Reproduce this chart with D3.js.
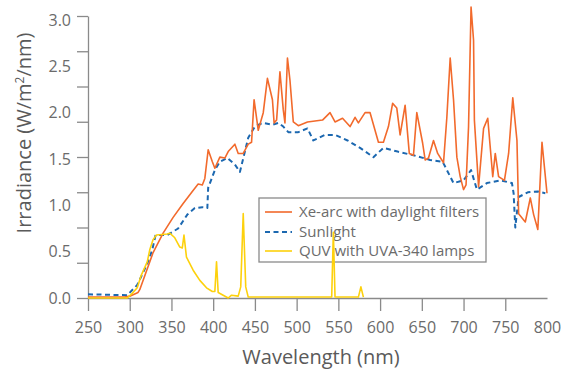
<!DOCTYPE html>
<html>
<head>
<meta charset="utf-8">
<script src="https://cdn.jsdelivr.net/npm/d3@7"></script>
<style>
  body { margin: 0; background: #fff; }
  svg { display: block; font-family: 'Open Sans', 'Noto Sans', sans-serif; }
</style>
</head>
<body>
<div id="chart"></div>
<script>
/* wavelengths (nm) and irradiance (W/m2/nm) */
const xeWavelength = [250, 294, 300, 310, 312, 328, 340, 352, 364, 375, 382, 387, 390, 394, 399, 402, 408, 414, 418, 426, 430, 436, 442, 446, 449, 454, 460, 465, 471, 473, 476, 480, 484, 486, 489, 492, 496, 502, 513, 531, 540, 546, 555, 564, 570, 574, 582, 588, 598, 604, 610, 615, 620, 624, 630, 635, 640, 644, 651, 654, 658, 664, 669, 676, 680, 684, 688, 692, 696, 700, 703, 706, 709, 712, 713, 718, 724, 729, 735, 738, 742, 749, 754, 759, 764, 766, 774, 780, 784, 789, 794, 800];
const xeIrradiance = [0.01, 0.01, 0.02, 0.06, 0.09, 0.49, 0.70, 0.87, 1.02, 1.15, 1.23, 1.22, 1.29, 1.60, 1.47, 1.40, 1.52, 1.51, 1.58, 1.66, 1.56, 1.56, 1.66, 1.68, 2.14, 1.81, 2.00, 2.37, 2.14, 1.89, 1.92, 2.44, 2.03, 1.89, 2.59, 2.35, 1.90, 1.86, 1.90, 1.92, 2.00, 1.90, 1.94, 1.85, 1.95, 1.89, 2.00, 2.00, 1.68, 1.68, 1.85, 2.10, 2.05, 1.76, 2.08, 1.56, 1.54, 2.00, 1.67, 1.49, 1.51, 1.70, 1.56, 1.46, 1.95, 2.59, 2.14, 1.52, 1.31, 1.17, 1.22, 1.85, 3.14, 2.78, 1.92, 1.20, 1.83, 1.94, 1.31, 1.56, 1.31, 1.27, 1.56, 2.16, 1.70, 0.91, 0.82, 1.08, 0.90, 0.74, 1.68, 1.13];

const sunWavelength = [250, 297, 309, 321, 327, 331, 345, 358, 369, 378, 387, 393, 394, 402, 408, 417, 426, 432, 438, 442, 450, 459, 471, 478, 484, 490, 502, 513, 520, 534, 546, 561, 576, 592, 604, 621, 640, 660, 675, 688, 700, 709, 716, 728, 744, 758, 760, 762, 766, 777, 789, 798];
const sunIrradiance = [0.04, 0.03, 0.14, 0.37, 0.52, 0.68, 0.68, 0.75, 0.90, 0.97, 0.98, 0.97, 1.19, 1.38, 1.47, 1.51, 1.44, 1.36, 1.58, 1.73, 1.85, 1.89, 1.87, 1.89, 1.85, 1.79, 1.79, 1.83, 1.70, 1.76, 1.76, 1.70, 1.62, 1.52, 1.62, 1.58, 1.54, 1.49, 1.47, 1.24, 1.27, 1.38, 1.17, 1.24, 1.27, 1.24, 1.13, 0.76, 1.09, 1.14, 1.15, 1.13];

const quvWavelength = [250, 297, 303, 309, 314, 321, 324, 328, 332, 345, 348, 354, 360, 363, 365, 368, 376, 384, 392, 399, 402, 404, 406, 412, 418, 422, 430, 433, 436, 439, 442, 500, 542, 544, 546, 548, 574, 577, 580];
const quvIrradiance = [0, 0, 0.05, 0.11, 0.25, 0.39, 0.52, 0.63, 0.68, 0.69, 0.70, 0.65, 0.55, 0.54, 0.68, 0.44, 0.30, 0.19, 0.11, 0.07, 0.07, 0.39, 0.06, 0.03, 0.0, 0.03, 0.02, 0.12, 0.91, 0.12, 0.01, 0.01, 0.01, 0.71, 0.01, 0.01, 0.01, 0.12, 0.01];

const seriesNames = ['Xe-arc with daylight filters', 'Sunlight', 'QUV with UVA-340 lamps'];
const xTickValues = [250, 300, 350, 400, 450, 500, 550, 600, 650, 700, 750, 800];
const yTickValues = [0, 0.5, 1.0, 1.5, 2.0, 2.5, 3.0];

const width = 569;
const height = 372;
const axisColour = '#8a8a8a';
const textColour = '#6b6b6b';

const svg = d3.select('#chart')
  .append('svg')
  .attr('width', width)
  .attr('height', height);

const x = d3.scaleLinear().domain([250, 800]).range([88, 547]);
const y = d3.scaleLinear().domain([0, 3]).range([298, 20]);
/* the tick marks on the y axis are spaced on their own grid, not on the labels */
const yMarks = d3.scaleLinear().domain([0, 8]).range([298, 16]);

/* y axis line and tick marks */
const yAxisMarks = svg.append('g')
  .attr('transform', 'translate(' + x(250) + ',0)')
  .call(d3.axisLeft(yMarks).ticks(8).tickFormat('').tickSize(11).tickSizeOuter(0));

/* y tick labels */
const yAxisLabels = svg.append('g')
  .attr('transform', 'translate(' + x(250) + ',0)')
  .call(d3.axisLeft(y).tickValues(yTickValues).tickFormat(d3.format('.1f')).tickSize(0).tickPadding(17));
yAxisLabels.select('.domain').remove();

/* x axis */
const xAxis = svg.append('g')
  .attr('transform', 'translate(0,' + y(0) + ')')
  .call(d3.axisBottom(x).tickValues(xTickValues).tickSize(13).tickSizeOuter(0).tickPadding(11));
xAxis.selectAll('.tick').filter(function (d) { return d === 800; }).select('line').remove();

[yAxisMarks, yAxisLabels, xAxis].forEach(function (g) {
  g.selectAll('path, line').attr('stroke', axisColour).attr('stroke-width', 1.3);
  g.selectAll('text')
    .attr('fill', textColour)
    .style('font-size', '16px')
    .style('font-family', "'Open Sans', 'Noto Sans', sans-serif");
});

/* axis titles */
svg.append('text')
  .attr('x', 321)
  .attr('y', 364)
  .attr('text-anchor', 'middle')
  .attr('fill', '#5a5a5a')
  .style('font-size', '20px')
  .text('Wavelength (nm)');

const yTitle = svg.append('text')
  .attr('transform', 'translate(31,133) rotate(-90)')
  .attr('text-anchor', 'middle')
  .attr('fill', '#5a5a5a')
  .style('font-size', '20px');
yTitle.append('tspan').text('Irradiance (W/m');
yTitle.append('tspan').attr('dy', -7).style('font-size', '12px').text('2');
yTitle.append('tspan').attr('dy', 7).text('/nm)');

const series = [
  { name: seriesNames[0], data: d3.zip(xeWavelength, xeIrradiance), colour: '#f26a2c', dash: null, width: 1.6 },
  { name: seriesNames[1], data: d3.zip(sunWavelength, sunIrradiance), colour: '#1c68b0', dash: '5,3.5', width: 2 },
  { name: seriesNames[2], data: d3.zip(quvWavelength, quvIrradiance), colour: '#fdd10c', dash: null, width: 1.6 }
];

/* legend goes in first, the 545 nm QUV spike runs over it in the original */
const legend = svg.append('g').attr('transform', 'translate(259,198)');
legend.append('rect')
  .attr('width', 227)
  .attr('height', 64)
  .attr('fill', '#fff')
  .attr('stroke', '#8a8a8a')
  .attr('stroke-width', 1.3);

const rowY = [14, 34, 53];
series.forEach(function (s, i) {
  legend.append('line')
    .attr('x1', 6).attr('x2', 33)
    .attr('y1', rowY[i]).attr('y2', rowY[i])
    .attr('stroke', s.colour)
    .attr('stroke-width', s.width)
    .attr('stroke-dasharray', s.dash);
  legend.append('text')
    .attr('x', 40)
    .attr('y', rowY[i])
    .attr('dy', '0.35em')
    .attr('fill', textColour)
    .style('font-size', '15px')
    .text(s.name);
});

/* series */
const line = d3.line()
  .x(function (d) { return x(d[0]); })
  .y(function (d) { return y(d[1]); });

/* draw order: sunlight under, then xe-arc, quv on top */
[series[1], series[0], series[2]].forEach(function (s) {
  svg.append('path')
    .datum(s.data)
    .attr('d', line)
    .attr('fill', 'none')
    .attr('stroke', s.colour)
    .attr('stroke-width', s.width)
    .attr('stroke-dasharray', s.dash)
    .attr('stroke-linejoin', 'round');
});
</script>
</body>
</html>
